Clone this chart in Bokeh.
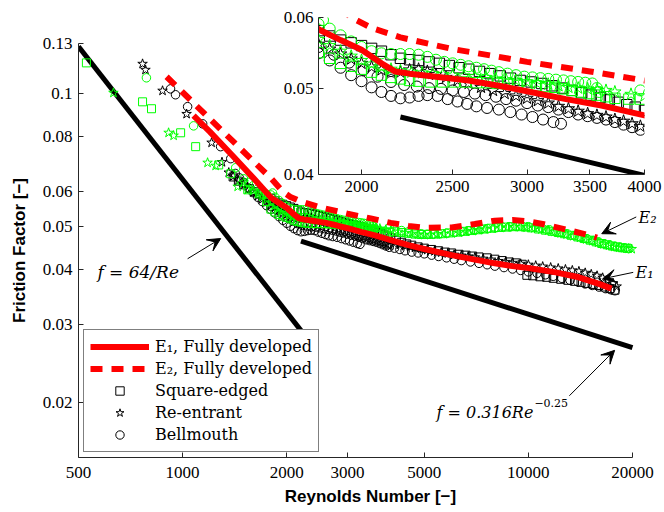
from bokeh.plotting import figure
from bokeh.models import (ColumnDataSource, FixedTicker, Range1d, Legend, LegendItem,
                          Label, Arrow, VeeHead)
from bokeh.embed import file_html
from bokeh.resources import INLINE

# ---------------------------------------------------------------------------
# Reference correlations (end points of the straight log-log lines)
laminar_re = [500, 2230]
laminar_f = [0.128, 0.0287]
blasius_re = [2200, 20000]
blasius_f = [0.0464, 0.0266]

# Fully developed friction factor, E1 and E2
e1_re = [1076, 1200, 1400, 1600, 1800, 1900, 2000, 2100, 2170, 2250, 2400, 2600, 2800,
         3000, 3300, 3600, 4000, 4500, 5000, 6000, 7000, 8000, 9000, 10000, 12000,
         14000, 16000, 17400]
e1_f = [0.0892, 0.0820, 0.0722, 0.0645, 0.0582, 0.0566, 0.0552, 0.0533, 0.0522, 0.0519,
        0.0515, 0.0510, 0.0503, 0.0496, 0.0486, 0.0478, 0.0466, 0.0454, 0.0445, 0.0431,
        0.0421, 0.0413, 0.0407, 0.0403, 0.0394, 0.0384, 0.0371, 0.0362]
e2_re = [899, 1000, 1200, 1400, 1600, 1800, 1950, 2050, 2200, 2500, 2800, 3000, 3500,
         4000, 4500, 5000, 6000, 7000, 8000, 9000, 10000, 11000, 12000, 13500, 15000, 15800]
e2_f = [0.1093, 0.1008, 0.0877, 0.0780, 0.0704, 0.0644, 0.0600, 0.0584, 0.0570, 0.0553,
        0.0542, 0.0535, 0.0522, 0.0510, 0.0502, 0.0497, 0.0498, 0.0507, 0.0516, 0.0518,
        0.0514, 0.0507, 0.0499, 0.0488, 0.0478, 0.0472]

# Measurements, (Re, f) pairs per inlet and pipe
sq_e1 = [(1400, 0.0648), (1450, 0.0634), (1500, 0.0622), (1560, 0.0610), (1620, 0.0600),
         (1680, 0.0593), (1740, 0.0587), (1800, 0.0580), (1850, 0.0572), (1900, 0.0566),
         (1950, 0.0562), (2000, 0.0558), (2050, 0.0554), (2100, 0.0550), (2150, 0.0545),
         (2200, 0.0540), (2250, 0.0538), (2300, 0.0537), (2360, 0.0535), (2420, 0.0533),
         (2480, 0.0530), (2540, 0.0527), (2600, 0.0525), (2670, 0.0522), (2740, 0.0519),
         (2810, 0.0516), (2880, 0.0513), (2950, 0.0510), (3030, 0.0508), (3110, 0.0506),
         (3190, 0.0503), (3270, 0.0500), (3350, 0.0497), (3430, 0.0494), (3510, 0.0491),
         (3590, 0.0488), (3670, 0.0485), (3750, 0.0482), (3830, 0.0479), (3910, 0.0476),
         (4000, 0.0472), (4150, 0.0466), (4300, 0.0461), (4450, 0.0457), (4600, 0.0454),
         (4800, 0.0450), (5000, 0.0447), (5250, 0.0444), (5500, 0.0441), (5750, 0.0438),
         (6000, 0.0436), (6300, 0.0433), (6600, 0.0431), (6900, 0.0429), (7200, 0.0427),
         (7600, 0.0425), (8000, 0.0422), (8400, 0.0419), (8800, 0.0416), (9200, 0.0414),
         (9600, 0.0411), (9900, 0.0388), (10300, 0.0387), (10800, 0.0385), (11300, 0.0384),
         (11800, 0.0382), (12400, 0.0380), (13000, 0.0378), (13600, 0.0376), (14200, 0.0374),
         (14800, 0.0372), (15400, 0.0370), (16000, 0.0368), (16600, 0.0365), (17200, 0.0362),
         (17800, 0.0359)]

st_e1 = [(766, 0.1169), (781, 0.1133), (875, 0.1016), (1027, 0.0900), (1213, 0.0775),
         (1300, 0.0700), (1360, 0.0663), (1400, 0.0650), (1450, 0.0636), (1500, 0.0622),
         (1550, 0.0609), (1600, 0.0598), (1650, 0.0587), (1700, 0.0577), (1750, 0.0568),
         (1800, 0.0560), (1850, 0.0553), (1900, 0.0546), (1950, 0.0539), (2000, 0.0533),
         (2050, 0.0528), (2100, 0.0524), (2150, 0.0522), (2200, 0.0521), (2250, 0.0524),
         (2300, 0.0525), (2350, 0.0522), (2400, 0.0518), (2460, 0.0514), (2530, 0.0510),
         (2600, 0.0506), (2680, 0.0501), (2760, 0.0497), (2840, 0.0493), (2920, 0.0490),
         (3000, 0.0487), (3080, 0.0484), (3160, 0.0481), (3240, 0.0477), (3320, 0.0474),
         (3400, 0.0471), (3480, 0.0468), (3560, 0.0466), (3640, 0.0464), (3720, 0.0461),
         (3800, 0.0459), (3880, 0.0456), (3960, 0.0453), (4100, 0.0458), (4250, 0.0455),
         (4400, 0.0452), (4550, 0.0450), (4700, 0.0448), (4900, 0.0446), (5100, 0.0443),
         (5350, 0.0440), (5600, 0.0437), (5850, 0.0435), (6100, 0.0432), (6400, 0.0430),
         (6700, 0.0428), (7000, 0.0426), (7400, 0.0423), (7800, 0.0421), (8200, 0.0418),
         (8600, 0.0416), (9000, 0.0414), (9500, 0.0412), (10000, 0.0410), (10500, 0.0408),
         (11000, 0.0406), (11600, 0.0404), (12200, 0.0402), (12800, 0.0400), (13400, 0.0398),
         (14000, 0.0396), (14600, 0.0393), (15200, 0.0390), (15800, 0.0387), (16400, 0.0383),
         (17000, 0.0378), (17600, 0.0372), (18000, 0.0366)]

ci_e1 = [(923, 0.1026), (954, 0.0995), (1034, 0.0935), (1143, 0.0855), (1288, 0.0759),
         (1378, 0.0713), (1420, 0.0660), (1460, 0.0645), (1500, 0.0630), (1550, 0.0612),
         (1600, 0.0597), (1650, 0.0583), (1700, 0.0570), (1750, 0.0558), (1800, 0.0547),
         (1850, 0.0537), (1900, 0.0527), (1950, 0.0517), (2000, 0.0509), (2050, 0.0501),
         (2100, 0.0495), (2150, 0.0490), (2200, 0.0487), (2250, 0.0488), (2300, 0.0490),
         (2350, 0.0491), (2410, 0.0490), (2470, 0.0486), (2530, 0.0483), (2590, 0.0480),
         (2650, 0.0477), (2720, 0.0475), (2800, 0.0473), (2880, 0.0470), (2960, 0.0467),
         (3040, 0.0464), (3120, 0.0461), (3200, 0.0458), (3260, 0.0456),
         (1800, 0.0556), (1870, 0.0545), (1940, 0.0534), (2010, 0.0524), (2080, 0.0515),
         (2150, 0.0508), (2220, 0.0504), (2290, 0.0502), (2360, 0.0500), (2430, 0.0499),
         (2500, 0.0497), (2570, 0.0495), (2640, 0.0493), (2710, 0.0491), (2780, 0.0489),
         (2850, 0.0486), (2920, 0.0484), (3000, 0.0481), (3080, 0.0478), (3160, 0.0476),
         (3240, 0.0473), (3320, 0.0470), (3400, 0.0467), (3480, 0.0465), (3560, 0.0463),
         (3640, 0.0461), (3720, 0.0458), (3800, 0.0455), (3880, 0.0452), (3960, 0.0449),
         (4100, 0.0447), (4250, 0.0444), (4400, 0.0441), (4600, 0.0438), (4800, 0.0436),
         (5000, 0.0434), (5250, 0.0431), (5500, 0.0428), (5800, 0.0425), (6100, 0.0422),
         (6400, 0.0419), (6800, 0.0416), (7200, 0.0413), (7600, 0.0410), (8000, 0.0407),
         (8500, 0.0404), (9000, 0.0401), (9500, 0.0398), (10000, 0.0395), (10600, 0.0392),
         (11200, 0.0389), (11800, 0.0386), (12500, 0.0382), (13200, 0.0378), (13900, 0.0375),
         (14600, 0.0371), (15300, 0.0368), (16000, 0.0365), (16700, 0.0362), (17300, 0.0360),
         (17800, 0.0358)]

sq_e2 = [(527, 0.1175), (766, 0.0959), (813, 0.0925), (987, 0.0816), (1091, 0.0759),
         (1272, 0.0690), (1378, 0.0659), (1543, 0.0606), (1683, 0.0593), (1750, 0.0570),
         (1800, 0.0548), (1850, 0.0540), (1900, 0.0533), (1950, 0.0529), (2000, 0.0525),
         (2050, 0.0521), (2100, 0.0517), (2150, 0.0514), (2200, 0.0512), (2250, 0.0510),
         (2300, 0.0509), (2370, 0.0508), (2440, 0.0508), (2510, 0.0508), (2580, 0.0508),
         (2650, 0.0507), (2720, 0.0507), (2790, 0.0506), (2860, 0.0505), (2930, 0.0505),
         (3000, 0.0504), (3070, 0.0503), (3140, 0.0502), (3210, 0.0501), (3280, 0.0499),
         (3350, 0.0497), (3420, 0.0495), (3490, 0.0493), (3560, 0.0491), (3640, 0.0489),
         (3720, 0.0487), (3850, 0.0486), (3960, 0.0486), (4100, 0.0487), (4300, 0.0485),
         (4500, 0.0483), (4700, 0.0481), (4900, 0.0480), (5100, 0.0480), (5350, 0.0481),
         (5600, 0.0482), (5900, 0.0484), (6200, 0.0486), (6500, 0.0488), (6800, 0.0490),
         (7100, 0.0492), (7400, 0.0494), (7800, 0.0496), (8200, 0.0498), (8600, 0.0499),
         (9000, 0.0500), (9400, 0.0500), (9800, 0.0499), (10200, 0.0497), (10700, 0.0494),
         (11200, 0.0491), (11700, 0.0488), (12200, 0.0485), (12700, 0.0482), (13300, 0.0478),
         (13900, 0.0474), (14500, 0.0470), (15100, 0.0466), (15700, 0.0462), (16300, 0.0458),
         (16900, 0.0455), (17500, 0.0452), (18100, 0.0450), (18700, 0.0448), (19300, 0.0447)]

st_e2 = [(631, 0.1005), (911, 0.0816), (942, 0.0804), (1181, 0.0698), (1246, 0.0687),
         (1443, 0.0616), (1502, 0.0630), (1543, 0.0606), (1600, 0.0603), (1650, 0.0594),
         (1700, 0.0585), (1750, 0.0576), (1800, 0.0567), (1850, 0.0558), (1900, 0.0550),
         (1950, 0.0543), (2000, 0.0537), (2050, 0.0532), (2100, 0.0528), (2150, 0.0525),
         (2200, 0.0523), (2260, 0.0521), (2320, 0.0520), (2380, 0.0519), (2440, 0.0518),
         (2500, 0.0517), (2570, 0.0516), (2640, 0.0515), (2710, 0.0514), (2780, 0.0512),
         (2850, 0.0511), (2920, 0.0510), (3000, 0.0508), (3080, 0.0506), (3160, 0.0505),
         (3240, 0.0503), (3320, 0.0501), (3400, 0.0500), (3480, 0.0499), (3560, 0.0498),
         (3640, 0.0497), (3720, 0.0495), (3870, 0.0492), (4000, 0.0490), (4200, 0.0487),
         (4400, 0.0484), (4600, 0.0482), (4800, 0.0480), (5000, 0.0479), (5200, 0.0479),
         (5450, 0.0480), (5700, 0.0481), (6000, 0.0483), (6300, 0.0485), (6600, 0.0487),
         (6900, 0.0489), (7200, 0.0491), (7500, 0.0493), (7900, 0.0495), (8300, 0.0497),
         (8700, 0.0498), (9100, 0.0499), (9500, 0.0499), (9900, 0.0498), (10400, 0.0496),
         (10900, 0.0493), (11400, 0.0490), (11900, 0.0487), (12400, 0.0483), (12900, 0.0480),
         (13500, 0.0476), (14100, 0.0472), (14700, 0.0468), (15300, 0.0464), (15900, 0.0460),
         (16500, 0.0456), (17100, 0.0453), (17700, 0.0450), (18300, 0.0448), (18900, 0.0447),
         (19500, 0.0446), (19900, 0.0445)]

ci_e2 = [(786, 0.1087), (1076, 0.0846), (1424, 0.0680), (1500, 0.0642), (1550, 0.0630),
         (1600, 0.0619), (1650, 0.0609), (1700, 0.0600), (1750, 0.0592), (1800, 0.0590),
         (1820, 0.0596), (1850, 0.0583), (1900, 0.0573), (1950, 0.0564), (2000, 0.0556),
         (2050, 0.0550), (2100, 0.0547), (2150, 0.0546), (2200, 0.0546), (2250, 0.0546),
         (2300, 0.0545), (2350, 0.0542), (2400, 0.0538), (2450, 0.0535), (2500, 0.0533),
         (2550, 0.0531), (2600, 0.0529), (2650, 0.0527), (2700, 0.0525), (2750, 0.0523),
         (2800, 0.0521), (2860, 0.0519), (2920, 0.0517), (2980, 0.0515), (3040, 0.0514),
         (3100, 0.0513), (3160, 0.0512), (3220, 0.0511), (3280, 0.0510), (3340, 0.0509),
         (3400, 0.0508), (3460, 0.0507), (3520, 0.0506), (3560, 0.0500), (3580, 0.0495),
         (3960, 0.0497), (4100, 0.0493), (4300, 0.0490), (4500, 0.0487), (4700, 0.0484),
         (4900, 0.0482), (5100, 0.0481), (5300, 0.0481), (5500, 0.0482), (5800, 0.0483),
         (6100, 0.0485), (6400, 0.0487), (6700, 0.0489), (7000, 0.0491), (7300, 0.0493),
         (7600, 0.0495), (8000, 0.0497), (8400, 0.0499), (8800, 0.0500), (9200, 0.0501),
         (9600, 0.0501), (10000, 0.0500), (10500, 0.0498), (11000, 0.0495), (11500, 0.0492),
         (12000, 0.0488), (12500, 0.0485), (13000, 0.0481), (13600, 0.0477), (14200, 0.0473),
         (14800, 0.0469), (15400, 0.0465), (16000, 0.0461), (16600, 0.0457), (17200, 0.0454),
         (17800, 0.0451), (18400, 0.0449), (19000, 0.0447), (19500, 0.0446)]

# Axis ticks and their labels
x_ticks = [500, 1000, 2000, 3000, 5000, 10000, 20000]
x_labels = ["500", "1000", "2000", "3000", "5000", "10000", "20000"]
y_ticks = [0.02, 0.03, 0.04, 0.05, 0.06, 0.08, 0.1, 0.13]
y_labels = ["0.02", "0.03", "0.04", "0.05", "0.06", "0.08", "0.1", "0.13"]
inset_x_ticks = [2000, 2500, 3000, 3500, 4000]
inset_x_labels = ["2000", "2500", "3000", "3500", "4000"]
inset_y_ticks = [0.04, 0.05, 0.06]
inset_y_labels = ["0.04", "0.05", "0.06"]

BLACK = "#000000"
GREEN = "#00ff00"
RED = "#ff0000"
AXIS = "#262626"
SERIF = "DejaVu Serif"
TICK_FONT = "Liberation Serif"


def source(pairs):
    re, f = zip(*pairs)
    return ColumnDataSource(dict(re=list(re), f=list(f)))


series = [
    ("sq_e1", sq_e1, "square", BLACK, 8),
    ("st_e1", st_e1, "star", BLACK, 10),
    ("ci_e1", ci_e1, "circle", BLACK, 8.5),
    ("sq_e2", sq_e2, "square", GREEN, 8),
    ("st_e2", st_e2, "star", GREEN, 10),
    ("ci_e2", ci_e2, "circle", GREEN, 8.5),
]
sources = {key: source(pairs) for key, pairs, _, _, _ in series}


def style_axis(ax, ticks, labels, font_size, standoff):
    ax.ticker = FixedTicker(ticks=ticks)
    ax.major_label_overrides = dict(zip(ticks, labels))
    ax.major_tick_in = 5
    ax.major_tick_out = 0
    ax.minor_tick_line_color = None
    ax.axis_line_color = AXIS
    ax.major_tick_line_color = AXIS
    ax.major_label_text_font = TICK_FONT
    ax.major_label_text_font_size = font_size
    ax.major_label_text_color = BLACK
    ax.major_label_standoff = standoff


def draw_content(fig, marker_scale):
    rends = {}
    for key, _, marker, color, size in series:
        rends[key] = fig.scatter("re", "f", source=sources[key], marker=marker,
                                 size=size * marker_scale, line_color=color,
                                 fill_color=None, line_width=1)
    rends["e1"] = fig.line(e1_re, e1_f, line_color=RED, line_width=6)
    rends["e2"] = fig.line(e2_re, e2_f, line_color=RED, line_width=6, line_dash="12 9")
    return rends


# ---------------------------------------------------------------------------
# Main log-log chart; the frame runs a little past 20000 so the curve tags fit,
# while the x axis line itself stops at 20000
p = figure(width=664, height=512, x_axis_type="log", y_axis_type="log",
           x_range=Range1d(500, 24430), y_range=Range1d(0.015, 0.13),
           output_backend="svg", toolbar_location=None,
           min_border_left=78, min_border_right=2, min_border_top=43, min_border_bottom=55)
p.outline_line_color = None
p.xgrid.visible = False
p.ygrid.visible = False
p.background_fill_color = "white"
p.border_fill_color = "white"

style_axis(p.xaxis[0], x_ticks, x_labels, "17px", 9)
style_axis(p.yaxis[0], y_ticks, y_labels, "17px", 6)
p.xaxis[0].bounds = (500, 20000)
for ax, text in ((p.xaxis[0], "Reynolds Number [\u2212]"), (p.yaxis[0], "Friction Factor [\u2212]")):
    ax.axis_label = text
    ax.axis_label_text_font = "Liberation Sans"
    ax.axis_label_text_font_style = "bold"
    ax.axis_label_text_font_size = "17px"
    ax.axis_label_text_color = BLACK
p.xaxis[0].axis_label_standoff = 6
p.yaxis[0].axis_label_standoff = 11

p.line(laminar_re, laminar_f, line_color=BLACK, line_width=5)
p.line(blasius_re, blasius_f, line_color=BLACK, line_width=5)
main = draw_content(p, 1.0)

legend = Legend(items=[
    LegendItem(label="E\u2081, Fully developed", renderers=[main["e1"]]),
    LegendItem(label="E\u2082, Fully developed", renderers=[main["e2"]]),
    LegendItem(label="Square-edged", renderers=[main["sq_e1"]]),
    LegendItem(label="Re-entrant", renderers=[main["st_e1"]]),
    LegendItem(label="Bellmouth", renderers=[main["ci_e1"]]),
], location=(5, 5))
legend.label_text_font = SERIF
legend.label_text_font_size = "16px"
legend.label_text_color = BLACK
legend.border_line_color = BLACK
legend.border_line_width = 1
legend.background_fill_color = "white"
legend.background_fill_alpha = 1
legend.padding = 6
legend.spacing = 1
legend.margin = 0
legend.label_height = 21
legend.glyph_height = 21
legend.glyph_width = 59
legend.label_standoff = 6
p.add_layout(legend)

# Annotations with arrows
label_style = dict(text_font=SERIF, text_font_style="italic", text_color=BLACK)
p.add_layout(Label(x=567, y=0.0394, text="f = 64/Re", text_font_size="17px",
                   text_baseline="middle", **label_style))
p.add_layout(Label(x=10340, y=0.01898, text="f = 0.316Re", text_font_size="16px",
                   text_align="right", text_baseline="alphabetic", **label_style))
p.add_layout(Label(x=10410, y=0.01990, text="\u22120.25", text_font_size="11px",
                   text_align="left", text_baseline="alphabetic", text_font=SERIF,
                   text_color=BLACK))
p.add_layout(Label(x=20830, y=0.0524, text="E\u2082", text_font_size="16px",
                   text_baseline="middle", **label_style))
p.add_layout(Label(x=20410, y=0.0394, text="E\u2081", text_font_size="16px",
                   text_baseline="middle", **label_style))

arrows = [
    (1034, 0.0423, 1289, 0.0470),
    (13140, 0.0207, 17760, 0.02623),
    (20510, 0.0526, 16300, 0.0482),
    (20100, 0.0394, 16400, 0.0381),
]
for xs, ys, xe, ye in arrows:
    p.add_layout(Arrow(end=VeeHead(size=13, fill_color=BLACK, line_color=BLACK, line_width=1),
                       x_start=xs, y_start=ys, x_end=xe, y_end=ye,
                       line_color=BLACK, line_width=1))

# ---------------------------------------------------------------------------
# Inset: transition region, overlaid on the upper right of the main chart
ins = figure(width=394, height=204, x_axis_type="log", y_axis_type="log",
             x_range=Range1d(1800, 4000), y_range=Range1d(0.04, 0.06),
             output_backend="svg", toolbar_location=None,
             min_border_left=48, min_border_right=20, min_border_top=17, min_border_bottom=30)
ins.outline_line_color = None
ins.xgrid.visible = False
ins.ygrid.visible = False
ins.background_fill_color = None
ins.border_fill_color = None
ins.styles = {"position": "absolute", "left": "270px", "top": "0px"}
style_axis(ins.xaxis[0], inset_x_ticks, inset_x_labels, "17px", 6)
style_axis(ins.yaxis[0], inset_y_ticks, inset_y_labels, "17px", 5)
ins.line(blasius_re, blasius_f, line_color=BLACK, line_width=5)
draw_content(ins, 1.3)

open("out.html", "w").write(file_html([p, ins], INLINE))
